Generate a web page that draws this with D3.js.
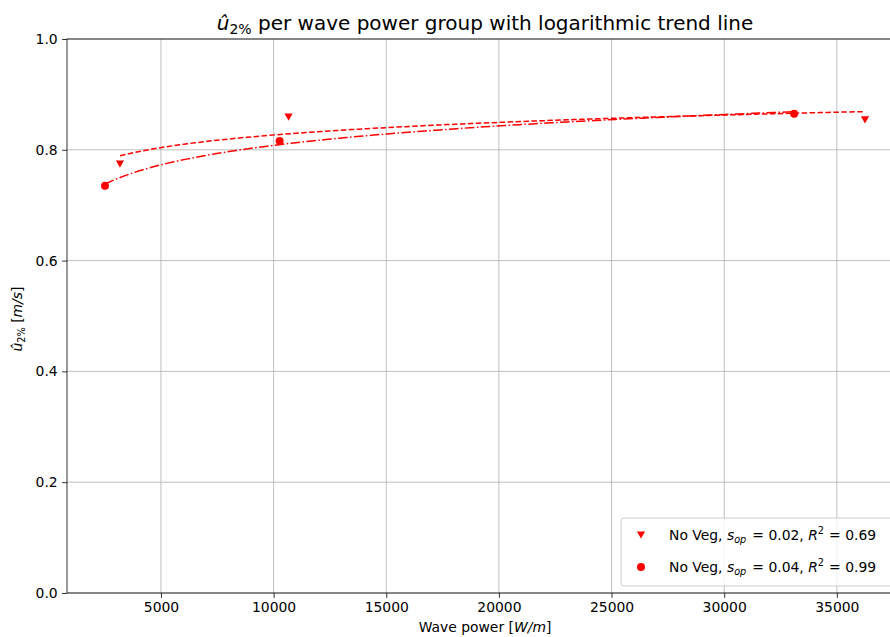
<!DOCTYPE html>
<html>
<head>
<meta charset="utf-8">
<script src="https://cdn.jsdelivr.net/npm/d3@7"></script>
<style>
  html, body { margin: 0; padding: 0; background: #fff; }
  svg { display: block; font-family: "DejaVu Sans", sans-serif; }
</style>
</head>
<body>
<svg id="chart" width="890" height="637"></svg>
<script>
// ---- data ----
const powerSop002 = [3180, 10665, 36250];
const u2Sop002    = [0.774, 0.859, 0.854];
const powerSop004 = [2516, 10266, 33105];
const u2Sop004    = [0.735, 0.816, 0.865];
const r2Labels    = ["0.69", "0.99"];
const sopLabels   = ["0.02", "0.04"];
const xTicks = [5000, 10000, 15000, 20000, 25000, 30000, 35000];
const yTicks = [0.0, 0.2, 0.4, 0.6, 0.8, 1.0];

const svg = d3.select("#chart");
const pL = 67, pR = 903, pT = 39, pB = 593;
const x = d3.scaleLinear().domain([829, 37937]).range([pL, pR]);
const y = d3.scaleLinear().domain([0, 1]).range([pB, pT]);
const red = "#ff0000";

// grid
const g = svg.append("g");
g.selectAll("line.vg").data(xTicks).join("line")
  .attr("x1", d => x(d)).attr("x2", d => x(d)).attr("y1", pT).attr("y2", pB)
  .attr("stroke", "#b0b0b0").attr("stroke-width", 0.8);
g.selectAll("line.hg").data(yTicks).join("line")
  .attr("x1", pL).attr("x2", pR).attr("y1", d => y(d)).attr("y2", d => y(d))
  .attr("stroke", "#b0b0b0").attr("stroke-width", 0.8);

// log fit y = a + b ln x, computed from the data
function logFit(xs, ys) {
  const lx = xs.map(Math.log);
  const mx = d3.mean(lx), my = d3.mean(ys);
  let sxy = 0, sxx = 0;
  lx.forEach((v, i) => { sxy += (v - mx) * (ys[i] - my); sxx += (v - mx) ** 2; });
  const b = sxy / sxx, a = my - b * mx;
  return v => a + b * Math.log(v);
}
function trend(xs, ys) {
  const f = logFit(xs, ys);
  const [x0, x1] = d3.extent(xs);
  return d3.range(0, 101).map(i => { const v = x0 + (x1 - x0) * i / 100; return [v, f(v)]; });
}
const line = d3.line().x(d => x(d[0])).y(d => y(d[1]));
const plot = svg.append("g");
plot.append("path").attr("d", line(trend(powerSop002, u2Sop002)))
  .attr("fill", "none").attr("stroke", red).attr("stroke-width", 1.5)
  .attr("stroke-dasharray", "5.55,2.4");
plot.append("path").attr("d", line(trend(powerSop004, u2Sop004)))
  .attr("fill", "none").attr("stroke", red).attr("stroke-width", 1.5)
  .attr("stroke-dasharray", "9.6,2.4,1.5,2.4");

const triPath = "M0,3.6L-4.1,-3.6L4.1,-3.6Z";
plot.selectAll("path.tri").data(powerSop002.map((v, i) => [v, u2Sop002[i]])).join("path")
  .attr("d", triPath).attr("fill", red)
  .attr("transform", d => `translate(${x(d[0])},${y(d[1])})`);
plot.selectAll("circle.pt").data(powerSop004.map((v, i) => [v, u2Sop004[i]])).join("circle")
  .attr("cx", d => x(d[0])).attr("cy", d => y(d[1])).attr("r", 4).attr("fill", red);

// axes frame
svg.append("rect").attr("x", pL).attr("y", pT).attr("width", pR - pL).attr("height", pB - pT)
  .attr("fill", "none").attr("stroke", "#000").attr("stroke-width", 0.8);

// axes
const xAxis = svg.append("g").attr("transform", `translate(0,${pB})`)
  .call(d3.axisBottom(x).tickValues(xTicks).tickFormat(d3.format("d")).tickSize(4.9).tickPadding(4.4));
const yAxis = svg.append("g").attr("transform", `translate(${pL},0)`)
  .call(d3.axisLeft(y).tickValues(yTicks).tickFormat(d3.format(".1f")).tickSize(4.9).tickPadding(4.4));
[xAxis, yAxis].forEach(a => {
  a.select(".domain").remove();
  a.selectAll("line").attr("stroke", "#000").attr("stroke-width", 0.8);
  a.selectAll("text").attr("font-family", "DejaVu Sans").attr("font-size", 13.9).attr("fill", "#000");
});

// title
const title = svg.append("text").attr("x", 485).attr("y", 30).attr("text-anchor", "middle")
  .attr("font-size", 20).attr("fill", "#000");
title.append("tspan").attr("font-style", "italic").text("û");
title.append("tspan").attr("font-size", 14).attr("dy", 3.5).text("2%");
title.append("tspan").attr("dy", -3.5).text(" per wave power group with logarithmic trend line");

// x label
const xl = svg.append("text").attr("x", 485).attr("y", 632).attr("text-anchor", "middle")
  .attr("font-size", 13.9).attr("fill", "#000");
xl.append("tspan").text("Wave power [");
xl.append("tspan").attr("font-style", "italic").text("W/m");
xl.append("tspan").text("]");

// y label
const yl = svg.append("text").attr("transform", `translate(22,319) rotate(-90)`)
  .attr("text-anchor", "middle").attr("font-size", 13.9).attr("fill", "#000");
yl.append("tspan").attr("font-style", "italic").text("û");
yl.append("tspan").attr("font-size", 9.7).attr("dy", 2.5).text("2%");
yl.append("tspan").attr("dy", -2.5).text(" [");
yl.append("tspan").attr("font-style", "italic").text("m/s");
yl.append("tspan").text("]");

// legend
const lg = svg.append("g");
lg.append("rect").attr("x", 621).attr("y", 518).attr("width", 275).attr("height", 68)
  .attr("rx", 3).attr("fill", "#fff").attr("fill-opacity", 0.8)
  .attr("stroke", "#cccccc").attr("stroke-width", 1);
const rows = [535, 567];
lg.append("path").attr("d", triPath).attr("fill", red).attr("transform", `translate(641,${rows[0]})`);
lg.append("circle").attr("cx", 641).attr("cy", rows[1]).attr("r", 4).attr("fill", red);
rows.forEach((ry, i) => {
  const t = lg.append("text").attr("x", 669).attr("y", ry + 5).attr("font-size", 13.9).attr("fill", "#000");
  t.append("tspan").text("No Veg, ");
  t.append("tspan").attr("font-style", "italic").text("s");
  t.append("tspan").attr("font-style", "italic").attr("font-size", 9.7).attr("dy", 3).text("op");
  t.append("tspan").attr("dy", -3).attr("dx", 6).text("=");
  t.append("tspan").attr("dx", 4.5).text(sopLabels[i] + ", ");
  t.append("tspan").attr("font-style", "italic").text("R");
  t.append("tspan").attr("font-size", 9.7).attr("dy", -6).text("2");
  t.append("tspan").attr("dy", 6).attr("dx", 5).text("=");
  t.append("tspan").attr("dx", 4.5).text(r2Labels[i]);
});
</script>
</body>
</html>
